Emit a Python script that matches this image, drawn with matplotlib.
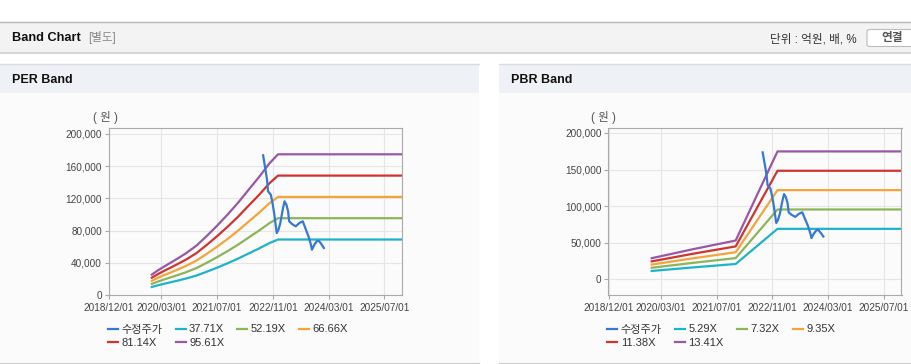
import numpy as np
import pandas as pd
import matplotlib.pyplot as plt
import matplotlib.dates as mdates
from matplotlib.patches import Rectangle, FancyBboxPatch
from matplotlib.lines import Line2D
from matplotlib.ticker import FuncFormatter

plt.rcParams['font.family'] = ['Liberation Sans', 'Noto Sans CJK KR', 'DejaVu Sans']

# ---- data ----
price_dates = ['2022-08-07', '2022-08-25', '2022-09-10', '2022-09-19', '2022-10-13',
               '2022-10-28', '2022-11-13', '2022-11-28', '2022-12-04', '2022-12-19',
               '2023-01-04', '2023-01-25', '2023-02-10', '2023-02-26', '2023-03-13',
               '2023-03-22', '2023-04-16', '2023-05-19', '2023-06-19', '2023-07-19',
               '2023-08-10', '2023-09-07', '2023-09-28', '2023-10-07', '2023-10-28',
               '2023-11-22', '2023-12-10', '2024-01-01', '2024-01-19']
price = [173500, 157800, 143200, 128800, 124600, 114300, 99800, 83200, 77000, 81100,
         89400, 106000, 116400, 112200, 104000, 91600, 88200, 85300, 89400, 91600,
         83200, 72900, 62500, 56300, 62500, 67500, 66700, 62500, 58400]

eps_dates = ['2019-12-10', '2020-02-01', '2020-04-01', '2020-07-01', '2020-10-01',
             '2021-01-01', '2021-04-01', '2021-07-01', '2021-10-01', '2022-01-01',
             '2022-04-01', '2022-07-01', '2022-10-01', '2022-12-15', '2025-12-01']
eps = [265, 320, 375, 455, 540, 640, 765, 900, 1045, 1200, 1365, 1530, 1710, 1828, 1828]
per_multiples = [37.71, 52.19, 66.66, 81.14, 95.61]

bps_dates = ['2019-12-13', '2020-12-01', '2021-12-15', '2022-12-15', '2025-12-01']
bps = [2150, 3050, 3950, 13035, 13035]
pbr_multiples = [5.29, 7.32, 9.35, 11.38, 13.41]

tick_dates = ['2018-12-01', '2020-03-01', '2021-07-01', '2022-11-01', '2024-03-01', '2025-07-01']

price_color = '#3579d2'
band_colors = ['#1fb3c9', '#8cb55a', '#f2a53b', '#cf3430', '#9958a5']

W, H = 912, 364
fig = plt.figure(figsize=(W / 100, H / 100), dpi=100)
fig.patch.set_facecolor('white')


def box(x0, y0, x1, y1, color):
    fig.patches.append(Rectangle((x0 / W, 1 - y1 / H), (x1 - x0) / W, (y1 - y0) / H,
                                 transform=fig.transFigure, facecolor=color,
                                 edgecolor='none', zorder=-2))


def hline(x0, x1, y, color, lw=1.0):
    fig.lines.append(Line2D([x0 / W, x1 / W], [1 - y / H, 1 - y / H],
                            transform=fig.transFigure, color=color, lw=lw, zorder=-1))


def txt(x, y, s, **kw):
    fig.text(x / W, 1 - y / H, s, va='center', **kw)


# header strip
box(0, 22, W, 52, '#f3f3f3')
hline(0, W, 22, '#b8b8b8')
hline(0, W, 52.5, '#d6d6d6', 1.5)
txt(12, 38, 'Band Chart', fontsize=9.2, fontweight='bold', color='#111111')
txt(88, 38, '[별도]', fontsize=8.3, color='#888888')
txt(770, 39, '단위 : 억원, 배, %', fontsize=8.4, color='#333333')
fig.patches.append(FancyBboxPatch((867 / W, 1 - 46.5 / H), 60 / W, 17 / H,
                                  boxstyle='round,pad=0,rounding_size=0.004',
                                  transform=fig.transFigure, facecolor='white',
                                  edgecolor='#bbbbbb', lw=0.8, zorder=-1))
txt(892, 38.5, '연결', fontsize=8.4, fontweight='bold', color='#555555', ha='center')

# panels
for x0, x1, title in [(0, 479, 'PER Band'), (499, W, 'PBR Band')]:
    box(x0, 64, x1, 93, '#eef2f6')
    box(x0, 93, x1, 362, '#fbfbfb')
    hline(x0, x1, 64, '#d9dde2')
    hline(x0, x1, 362.5, '#d0d0d0')
    txt(x0 + 12, 80, title, fontsize=9, fontweight='bold', color='#111111')


def draw_panel(left, ylim, yticks, base_dates, base, multiples, label_x):
    ax = fig.add_axes([left / W, (H - 295) / H, 293 / W, 167 / H])
    ax.set_zorder(5)
    ax.set_facecolor('#fbfbfb')
    ax.plot(pd.to_datetime(price_dates), price, color=price_color, lw=1.6,
            label='수정주가', zorder=5)
    bd = pd.to_datetime(base_dates)
    for m, c in zip(multiples, band_colors):
        ax.plot(bd, np.array(base) * m, color=c, lw=1.6, label=f'{m:.2f}X')
    ax.set_xlim(pd.Timestamp('2018-12-01'), pd.Timestamp('2025-12-01'))
    ax.set_ylim(*ylim)
    ax.set_xticks(pd.to_datetime(tick_dates))
    ax.xaxis.set_major_formatter(mdates.DateFormatter('%Y/%m/%d'))
    ax.set_yticks(yticks)
    ax.yaxis.set_major_formatter(FuncFormatter(lambda v, p: f'{int(v):,}'))
    ax.grid(True, color='#e6e6e6', lw=0.8)
    ax.set_axisbelow(True)
    for s in ax.spines.values():
        s.set_color('#aaaaaa')
        s.set_linewidth(0.8)
    ax.tick_params(axis='y', length=3, color='#aaaaaa', labelsize=7.2, labelcolor='#444444', pad=2)
    ax.tick_params(axis='x', length=3, color='#aaaaaa', labelsize=7.2, labelcolor='#444444', pad=3)
    txt(label_x, 117, '( 원 )', fontsize=8.3, color='#555555', ha='center')

    h, l = ax.get_legend_handles_labels()
    order = [0, 4, 1, 5, 2, 3]
    ax.legend([h[i] for i in order], [l[i] for i in order], ncol=4, frameon=False,
              loc='upper left', bbox_to_anchor=((left - 1) / W, 1 - 324.5 / H),
              bbox_transform=fig.transFigure, fontsize=8, handlelength=0.9,
              handletextpad=0.3, columnspacing=1.2, labelspacing=0.3,
              borderpad=0, borderaxespad=0, labelcolor='#333333')
    return ax


draw_panel(109, (0, 207450), np.arange(0, 200001, 40000), eps_dates, eps, per_multiples, 105)
draw_panel(608.5, (-21500, 206800), np.arange(0, 200001, 50000), bps_dates, bps, pbr_multiples, 603)

fig.savefig('out.png', dpi=100, facecolor=fig.get_facecolor())
